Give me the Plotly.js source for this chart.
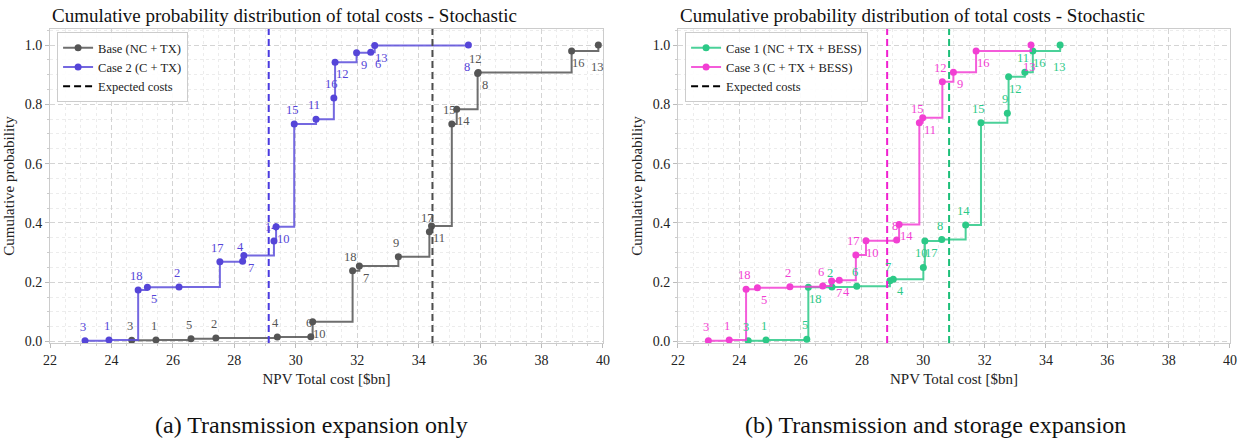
<!DOCTYPE html>
<html>
<head>
<meta charset="utf-8">
<script src="https://cdn.plot.ly/plotly-3.0.1.min.js"></script>
<style>html,body{margin:0;padding:0;background:#fff}#chart{width:1247px;height:441px}</style>
</head>
<body>
<div id="chart"></div>
<script>
// ---------------- data ----------------
const panelTitle = 'Cumulative probability distribution of total costs - Stochastic';
const xAxisTitle = 'NPV Total cost [$bn]';
const yAxisTitle = 'Cumulative probability';
const captions = ['(a) Transmission expansion only', '(b) Transmission and storage expansion'];
const legendExpected = 'Expected costs';

// Panel (a)
const baseName = 'Base (NC + TX)';
const baseCost = [24.66, 25.45, 26.59, 27.40, 29.40, 30.49, 30.55, 31.85, 32.07, 33.34, 34.35, 34.42, 35.08, 35.24, 35.92, 35.94, 38.98, 39.85];
const baseProb = [0.004, 0.005, 0.009, 0.012, 0.015, 0.016, 0.067, 0.239, 0.255, 0.286, 0.370, 0.390, 0.734, 0.783, 0.904, 0.907, 0.980, 1.000];
const baseScen = ['3','1','5','2','4','6','10','18','7','9','17','11','15','14','12','8','16','13'];

const case2Name = 'Case 2 (C + TX)';
const case2Cost = [23.14, 23.92, 24.87, 25.17, 26.20, 27.53, 28.27, 28.31, 29.29, 29.36, 29.95, 30.66, 31.24, 31.28, 31.98, 32.44, 32.57, 35.62];
const case2Prob = [0.003, 0.005, 0.174, 0.183, 0.184, 0.269, 0.271, 0.290, 0.339, 0.387, 0.734, 0.750, 0.821, 0.942, 0.974, 0.976, 0.998, 1.000];
const case2Scen = ['3','1','18','5','2','17','4','7','14','10','15','11','16','12','9','6','13','8'];

// Panel (b)
const case1Name = 'Case 1 (NC + TX + BESS)';
const case1Cost = [24.29, 24.87, 26.20, 26.25, 27.02, 27.83, 28.91, 29.02, 30.00, 30.05, 30.60, 31.38, 31.88, 32.74, 32.78, 33.31, 33.57, 34.46];
const case1Prob = [0.003, 0.005, 0.008, 0.183, 0.184, 0.186, 0.205, 0.210, 0.250, 0.339, 0.344, 0.393, 0.738, 0.770, 0.893, 0.908, 0.980, 1.000];
const case1Scen = ['3','1','5','18','2','6','7','4','10','17','8','14','15','9','12','11','16','13'];

const case3Name = 'Case 3 (C + TX + BESS)';
const case3Cost = [22.99, 23.67, 24.22, 24.59, 25.65, 26.72, 27.01, 27.26, 27.80, 28.13, 29.13, 29.21, 29.87, 29.98, 30.62, 30.98, 31.72, 33.51];
const case3Prob = [0.003, 0.005, 0.176, 0.181, 0.185, 0.187, 0.204, 0.207, 0.292, 0.340, 0.342, 0.395, 0.738, 0.755, 0.876, 0.908, 0.980, 1.000];
const case3Scen = ['3','1','18','5','2','6','7','4','17','10','8','14','15','11','12','9','16','13'];

// expected costs
const expBase = 34.45, expCase2 = 29.12, expCase1 = 30.84, expCase3 = 28.82;

// ---------------- styles ----------------
// label placement codes: a = above, b = below-right, d = below
const basePos  = ['a','a','a','a','a','a','b','a','b','a','a','b','a','b','a','b','b','d'];
const case2Pos = ['a','a','a','b','a','a','a','b','a','b','a','a','a','b','b','b','b','d'];
const case1Pos = ['a','a','a','b','a','a','a','b','a','b','a','a','a','a','b','a','b','d'];
const case3Pos = ['a','a','a','b','a','a','b','b','a','b','a','b','a','b','a','b','b','d'];
const offsets = {a:[-2,14], b:[7,-12], d:[-1,-22]};

const C = {
  grey:  {mk:'#555555', ln:'rgba(85,85,85,0.85)',  dash:'#4d4d4d', tx:'#555555'},
  blue:  {mk:'#5545d8', ln:'rgba(92,78,218,0.85)', dash:'#4a3be0', tx:'#5545d8'},
  green: {mk:'#2cc987', ln:'rgba(44,201,135,0.85)',dash:'#1cbf78', tx:'#2cc987'},
  pink:  {mk:'#f23fd3', ln:'rgba(242,63,211,0.85)',dash:'#f020d0', tx:'#f23fd3'}
};
const FONT = 'Liberation Serif, Times New Roman, serif';

function stepTrace(xs, ys, name, col, xa, ya, leg) {
  return {x: xs, y: ys, name: name, mode: 'lines+markers', type: 'scatter',
    xaxis: xa, yaxis: ya, legend: leg,
    line: {shape: 'hv', color: col.ln, width: 2},
    marker: {color: col.mk, size: 7}};
}
function expTrace(leg, xa, ya) {
  return {x: [null], y: [null], name: legendExpected, mode: 'lines', type: 'scatter',
    xaxis: xa, yaxis: ya, legend: leg, line: {color: '#000', dash: '7px,4px', width: 2}};
}
function labelAnn(xs, ys, labels, pos, col, xref, yref) {
  return xs.map((v, i) => ({
    x: v, y: ys[i], xref: xref, yref: yref, text: labels[i], showarrow: false,
    xshift: offsets[pos[i]][0], yshift: offsets[pos[i]][1],
    font: {family: FONT, size: 12.5, color: col.tx}
  }));
}
function vline(x, col, xref) {
  return {type: 'line', xref: xref, x0: x, x1: x, yref: (xref === 'x' ? 'y' : 'y2') + ' domain', y0: 0, y1: 1,
    line: {color: col.dash, width: 2, dash: '7px,4px'}, layer: 'above'};
}
function xAx(domain, anchor) {
  return {domain: domain, anchor: anchor, range: [22, 40], tick0: 22, dtick: 2,
    showline: true, mirror: true, linecolor: '#cccccc', linewidth: 1,
    showgrid: true, gridcolor: '#d4d4d4', griddash: '5px,3px', gridwidth: 1,
    ticks: 'outside', ticklen: 4, tickcolor: '#bbbbbb', zeroline: false,
    tickfont: {family: FONT, size: 14, color: '#222'},
    title: {text: xAxisTitle, font: {family: FONT, size: 15, color: '#222'}, standoff: 6},
    minor: {dtick: 0.5, tick0: 22, showgrid: true, gridcolor: '#ececec', griddash: 'dot', gridwidth: 1,
            ticks: 'outside', ticklen: 2, tickcolor: '#cccccc'}};
}
function yAx(anchor) {
  return {domain: [0, 1], anchor: anchor, range: [-0.005, 1.054], tick0: 0, dtick: 0.2, tickformat: '.1f',
    showline: true, mirror: true, linecolor: '#cccccc', linewidth: 1,
    showgrid: true, gridcolor: '#d4d4d4', griddash: '5px,3px', gridwidth: 1,
    ticks: 'outside', ticklen: 4, tickcolor: '#bbbbbb', zeroline: false,
    tickfont: {family: FONT, size: 14, color: '#222'},
    title: {text: yAxisTitle, font: {family: FONT, size: 15, color: '#222'}, standoff: 6},
    minor: {dtick: 0.05, tick0: 0, showgrid: true, gridcolor: '#ececec', griddash: 'dot', gridwidth: 1,
            ticks: 'outside', ticklen: 2, tickcolor: '#cccccc'}};
}

const traces = [
  stepTrace(baseCost, baseProb, baseName, C.grey, 'x', 'y', 'legend'),
  stepTrace(case2Cost, case2Prob, case2Name, C.blue, 'x', 'y', 'legend'),
  expTrace('legend', 'x', 'y'),
  stepTrace(case1Cost, case1Prob, case1Name, C.green, 'x2', 'y2', 'legend2'),
  stepTrace(case3Cost, case3Prob, case3Name, C.pink, 'x2', 'y2', 'legend2'),
  expTrace('legend2', 'x2', 'y2')
];

const dL = [0, 0.4686], dR = [0.5322, 1];
const legendStyle = {xanchor: 'left', yanchor: 'top', bgcolor: 'rgba(255,255,255,0.9)',
  bordercolor: '#cccccc', borderwidth: 1, font: {family: FONT, size: 12.5, color: '#222'},
  tracegroupgap: 0, itemwidth: 30};

const annotations = []
  .concat(labelAnn(baseCost, baseProb, baseScen, basePos, C.grey, 'x', 'y'))
  .concat(labelAnn(case2Cost, case2Prob, case2Scen, case2Pos, C.blue, 'x', 'y'))
  .concat(labelAnn(case1Cost, case1Prob, case1Scen, case1Pos, C.green, 'x2', 'y2'))
  .concat(labelAnn(case3Cost, case3Prob, case3Scen, case3Pos, C.pink, 'x2', 'y2'))
  .concat([
    {xref: 'x domain', yref: 'y domain', x: 0, y: 1, xanchor: 'left', yanchor: 'bottom', yshift: 1,
     text: panelTitle, showarrow: false, font: {family: FONT, size: 19, color: '#111'}},
    {xref: 'x2 domain', yref: 'y2 domain', x: 0, y: 1, xanchor: 'left', yanchor: 'bottom', yshift: 1,
     text: panelTitle, showarrow: false, font: {family: FONT, size: 19, color: '#111'}},
    {xref: 'paper', yref: 'paper', x: 0.222, y: -0.262, xanchor: 'center', yanchor: 'middle',
     text: captions[0], showarrow: false, font: {family: FONT, size: 24, color: '#111'}},
    {xref: 'paper', yref: 'paper', x: 0.750, y: -0.262, xanchor: 'center', yanchor: 'middle',
     text: captions[1], showarrow: false, font: {family: FONT, size: 24, color: '#111'}}
  ]);

const layout = {
  width: 1247, height: 441,
  margin: {l: 50, r: 17, t: 29, b: 98},
  paper_bgcolor: '#ffffff', plot_bgcolor: '#ffffff',
  font: {family: FONT, size: 14, color: '#222'},
  showlegend: true,
  xaxis: xAx(dL, 'y'), yaxis: yAx('x'),
  xaxis2: xAx(dR, 'y2'), yaxis2: yAx('x2'),
  legend: Object.assign({x: 0.006, y: 0.99}, legendStyle),
  legend2: Object.assign({x: dR[0] + 0.006, y: 0.99}, legendStyle),
  shapes: [vline(expCase2, C.blue, 'x'), vline(expBase, C.grey, 'x'),
           vline(expCase3, C.pink, 'x2'), vline(expCase1, C.green, 'x2')],
  annotations: annotations
};

Plotly.newPlot('chart', traces, layout, {displayModeBar: false, staticPlot: true});
</script>
</body>
</html>
